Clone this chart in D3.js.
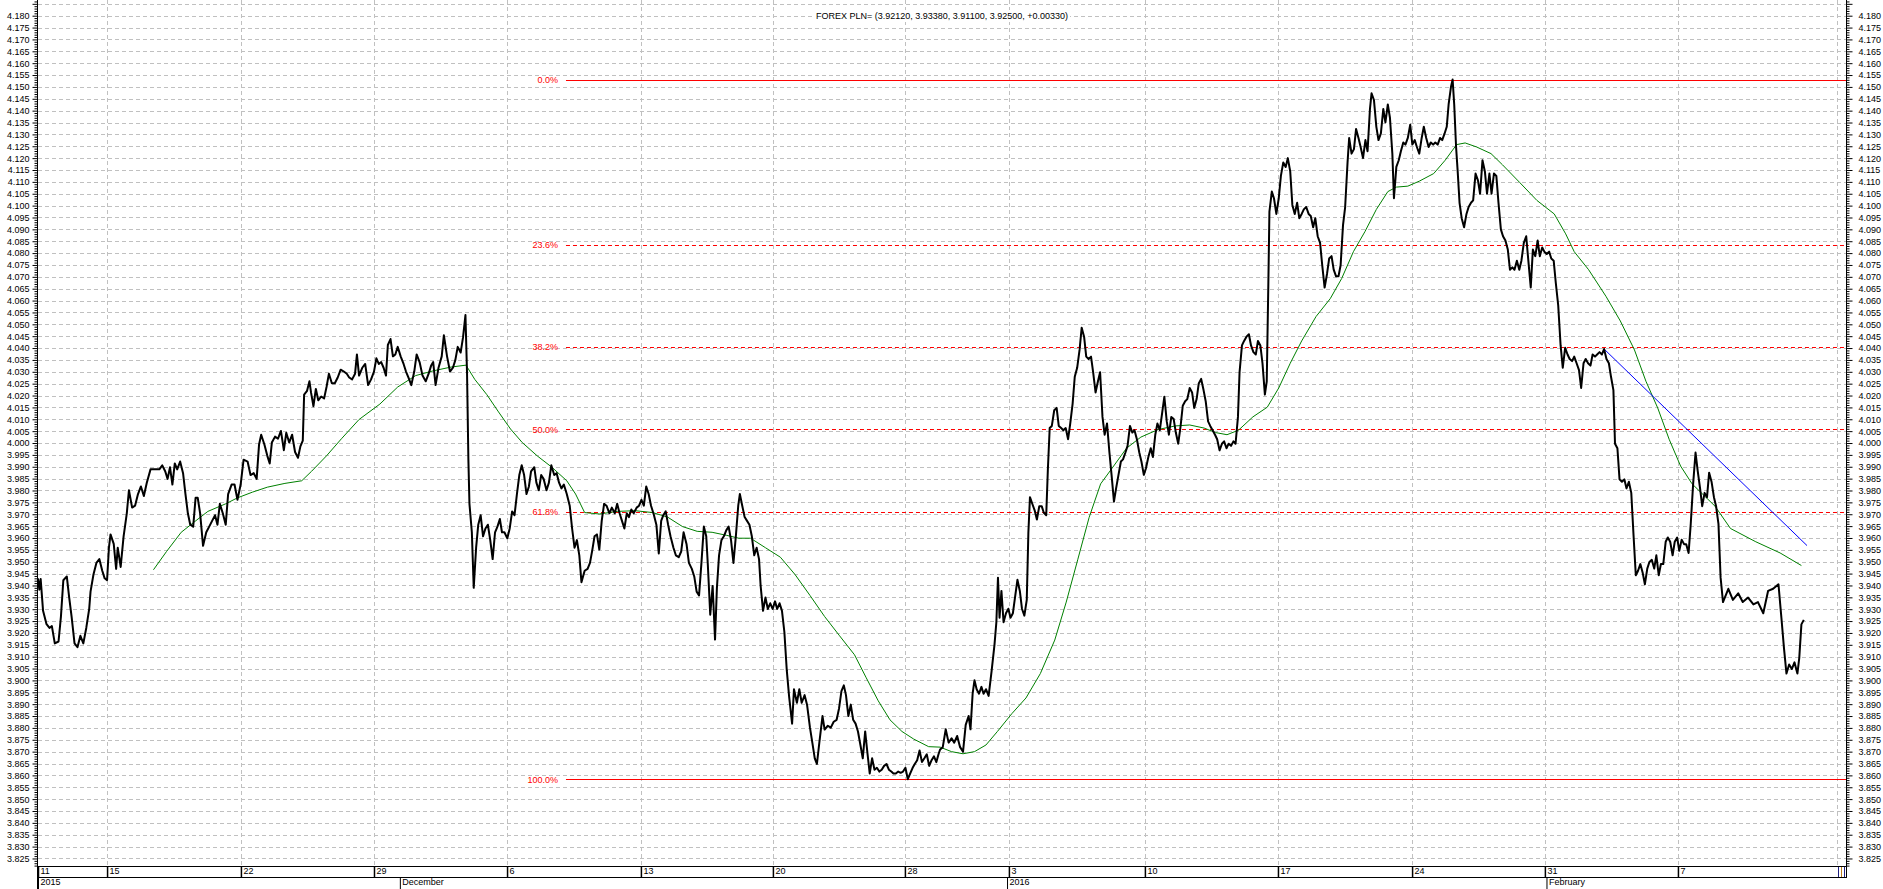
<!DOCTYPE html>
<html><head><meta charset="utf-8">
<script src="https://cdn.jsdelivr.net/npm/d3@7"></script>
<style>
html,body{margin:0;padding:0;background:#fff;}
svg{display:block;font-family:"Liberation Sans",Arial,sans-serif;}
</style></head><body>
<svg id="chart" width="1883" height="889"></svg>
<script>
// ---------- DATA ----------
const title = "FOREX PLN= (3.92120, 3.93380, 3.91100, 3.92500, +0.00330)";
// time in trading days since 11 Nov 2015, PLN= price
const close = [[0,3.943],[0.05,3.9382],[0.1,3.9427],[0.19,3.9293],[0.32,3.9237],[0.43,3.9221],[0.52,3.9229],[0.63,3.9156],[0.77,3.9164],[0.86,3.9269],[0.95,3.9422],[1.08,3.9438],[1.17,3.9349],[1.26,3.9269],[1.37,3.9156],[1.48,3.914],[1.59,3.9188],[1.7,3.9156],[1.81,3.9221],[1.92,3.9301],[1.97,3.9374],[2.08,3.9446],[2.19,3.9495],[2.3,3.9511],[2.41,3.9462],[2.5,3.943],[2.59,3.9422],[2.66,3.9559],[2.72,3.9615],[2.84,3.9575],[2.93,3.947],[2.99,3.9559],[3.1,3.9478],[3.21,3.9607],[3.33,3.9704],[3.41,3.9801],[3.53,3.9728],[3.64,3.9736],[3.75,3.9785],[3.86,3.9817],[3.97,3.9777],[4.08,3.9833],[4.22,3.9889],[4.37,3.9889],[4.55,3.9889],[4.66,3.9906],[4.77,3.9881],[4.86,3.9849],[4.95,3.9898],[5.04,3.9825],[5.13,3.9914],[5.22,3.9889],[5.33,3.9922],[5.44,3.9873],[5.53,3.9785],[5.62,3.9704],[5.71,3.9656],[5.82,3.9648],[5.91,3.9769],[5.99,3.9769],[6.08,3.9704],[6.19,3.9567],[6.31,3.9624],[6.42,3.9648],[6.53,3.9672],[6.64,3.9696],[6.73,3.9656],[6.82,3.9744],[6.93,3.9704],[7.04,3.9656],[7.13,3.9785],[7.26,3.9825],[7.37,3.9825],[7.48,3.9761],[7.6,3.9825],[7.71,3.993],[7.86,3.9922],[7.97,3.9865],[8.09,3.9873],[8.2,3.9849],[8.29,3.9994],[8.37,4.0035],[8.49,3.9994],[8.6,3.9946],[8.69,3.9914],[8.77,4.0002],[8.89,4.0027],[9,4.0018],[9.11,4.0051],[9.22,3.997],[9.31,4.0043],[9.42,4.0002],[9.53,4.0035],[9.64,3.9962],[9.75,3.9938],[9.84,3.9986],[9.93,4.001],[9.98,4.0204],[10.09,4.022],[10.18,4.026],[10.24,4.0212],[10.33,4.0155],[10.42,4.0228],[10.51,4.018],[10.62,4.0196],[10.73,4.0188],[10.82,4.0236],[10.91,4.0292],[11.02,4.0252],[11.13,4.0252],[11.24,4.0276],[11.35,4.0309],[11.47,4.0301],[11.58,4.0292],[11.67,4.0276],[11.78,4.0268],[11.89,4.0292],[11.96,4.0373],[12.04,4.0284],[12.16,4.0317],[12.27,4.0333],[12.38,4.0244],[12.49,4.0268],[12.6,4.0301],[12.69,4.0357],[12.78,4.0333],[12.87,4.0341],[12.96,4.0317],[13.05,4.0284],[13.12,4.0413],[13.22,4.0438],[13.31,4.0365],[13.4,4.0373],[13.49,4.0405],[13.6,4.0365],[13.71,4.0333],[13.8,4.0301],[13.89,4.0276],[14,4.0244],[14.11,4.0301],[14.2,4.0373],[14.31,4.0341],[14.42,4.0284],[14.54,4.026],[14.65,4.0292],[14.74,4.0325],[14.82,4.0341],[14.91,4.0244],[15.02,4.0317],[15.14,4.0365],[15.22,4.0454],[15.34,4.0365],[15.45,4.0301],[15.56,4.0317],[15.65,4.0349],[15.74,4.0405],[15.85,4.0381],[15.94,4.0446],[16.03,4.0539],[16.09,4.0292],[16.14,3.993],[16.18,3.9744],[16.27,3.9624],[16.34,3.939],[16.43,3.9559],[16.51,3.9656],[16.6,3.9696],[16.69,3.9607],[16.78,3.964],[16.87,3.9656],[16.96,3.9591],[17.05,3.9511],[17.14,3.9624],[17.23,3.9648],[17.32,3.968],[17.4,3.9624],[17.49,3.9624],[17.6,3.9599],[17.69,3.964],[17.78,3.9712],[17.87,3.9696],[17.96,3.9785],[18.05,3.9865],[18.14,3.9906],[18.23,3.9865],[18.32,3.9785],[18.41,3.9817],[18.49,3.9881],[18.61,3.9898],[18.69,3.9833],[18.78,3.9801],[18.87,3.9865],[18.96,3.9849],[19.07,3.9801],[19.16,3.9833],[19.25,3.9906],[19.36,3.9865],[19.45,3.9873],[19.54,3.9833],[19.63,3.9809],[19.72,3.9825],[19.83,3.9785],[19.94,3.9736],[20.03,3.964],[20.12,3.9559],[20.21,3.9591],[20.3,3.9527],[20.38,3.9414],[20.5,3.9462],[20.61,3.947],[20.7,3.9495],[20.79,3.9551],[20.87,3.9607],[20.96,3.9615],[21.05,3.9551],[21.14,3.9672],[21.23,3.9744],[21.32,3.9736],[21.43,3.9704],[21.52,3.9728],[21.63,3.9704],[21.72,3.9744],[21.81,3.9704],[21.9,3.9672],[21.99,3.964],[22.08,3.9704],[22.16,3.9688],[22.25,3.972],[22.34,3.9704],[22.45,3.9728],[22.54,3.9736],[22.63,3.9761],[22.72,3.9736],[22.81,3.9817],[22.9,3.9785],[22.99,3.9736],[23.1,3.9696],[23.19,3.9656],[23.28,3.9535],[23.37,3.9672],[23.45,3.9696],[23.54,3.9712],[23.63,3.9656],[23.72,3.9607],[23.83,3.9559],[23.92,3.9527],[24.03,3.9519],[24.12,3.9543],[24.21,3.9624],[24.32,3.9575],[24.41,3.9495],[24.52,3.947],[24.61,3.9438],[24.7,3.9374],[24.79,3.9358],[24.88,3.9495],[24.97,3.9648],[25.06,3.9607],[25.12,3.9486],[25.21,3.9277],[25.3,3.9398],[25.39,3.9172],[25.46,3.939],[25.54,3.9527],[25.63,3.9591],[25.72,3.9607],[25.81,3.9632],[25.9,3.9648],[25.99,3.9591],[26.08,3.9495],[26.17,3.9607],[26.26,3.9736],[26.32,3.9785],[26.41,3.9736],[26.5,3.9688],[26.59,3.9672],[26.68,3.9656],[26.77,3.9607],[26.86,3.9527],[26.95,3.9559],[27.04,3.9511],[27.1,3.9398],[27.19,3.9293],[27.28,3.9349],[27.37,3.9301],[27.46,3.9325],[27.55,3.9301],[27.64,3.9333],[27.72,3.9301],[27.81,3.9325],[27.9,3.9293],[27.99,3.9204],[28.08,3.9043],[28.17,3.893],[28.28,3.8818],[28.35,3.8963],[28.46,3.8906],[28.55,3.8963],[28.64,3.8906],[28.75,3.8938],[28.84,3.8898],[28.95,3.8801],[29.04,3.8737],[29.13,3.8672],[29.21,3.8648],[29.3,3.8737],[29.42,3.885],[29.5,3.8793],[29.62,3.8809],[29.73,3.8801],[29.84,3.8826],[29.95,3.8834],[30.04,3.8882],[30.13,3.8955],[30.22,3.8979],[30.3,3.8938],[30.39,3.885],[30.48,3.8898],[30.57,3.8834],[30.66,3.8818],[30.75,3.8785],[30.84,3.8729],[30.93,3.8672],[31.02,3.8785],[31.11,3.8689],[31.19,3.8608],[31.28,3.8672],[31.37,3.8624],[31.46,3.8632],[31.55,3.8616],[31.64,3.8624],[31.73,3.864],[31.82,3.8648],[31.91,3.8624],[32,3.8616],[32.08,3.8608],[32.17,3.8608],[32.26,3.8616],[32.35,3.8611],[32.44,3.8616],[32.53,3.8632],[32.62,3.8584],[32.71,3.8608],[32.8,3.8632],[32.88,3.8648],[32.97,3.8664],[33.06,3.8705],[33.15,3.8656],[33.24,3.8672],[33.33,3.8689],[33.42,3.864],[33.51,3.8664],[33.6,3.868],[33.69,3.8656],[33.77,3.8689],[33.83,3.8709],[33.93,3.8719],[34.04,3.8794],[34.15,3.8738],[34.26,3.8756],[34.36,3.8738],[34.47,3.8766],[34.58,3.8719],[34.69,3.87],[34.79,3.8813],[34.9,3.885],[34.97,3.8794],[35.05,3.8944],[35.12,3.9001],[35.2,3.8963],[35.29,3.8944],[35.38,3.8973],[35.46,3.8944],[35.55,3.8963],[35.65,3.8935],[35.76,3.9038],[35.87,3.9151],[35.94,3.9245],[36,3.9433],[36.06,3.9264],[36.13,3.9377],[36.21,3.9245],[36.3,3.9283],[36.39,3.9302],[36.47,3.9264],[36.56,3.9283],[36.65,3.9358],[36.73,3.9424],[36.82,3.9377],[36.9,3.9302],[36.99,3.9273],[37.08,3.9339],[37.14,3.9621],[37.2,3.9772],[37.29,3.9743],[37.38,3.9715],[37.46,3.9678],[37.55,3.9734],[37.64,3.9734],[37.72,3.9706],[37.81,3.9696],[37.87,3.9884],[37.94,4.0063],[38.02,4.0072],[38.11,4.0138],[38.2,4.0148],[38.28,4.0072],[38.37,4.0063],[38.45,4.0054],[38.54,4.0063],[38.63,4.0016],[38.71,4.0082],[38.8,4.0166],[38.88,4.0279],[38.97,4.0317],[39.06,4.0392],[39.14,4.0486],[39.23,4.0448],[39.31,4.0364],[39.4,4.0354],[39.49,4.0364],[39.57,4.0298],[39.66,4.0213],[39.75,4.026],[39.83,4.0298],[39.92,4.011],[40,4.0035],[40.09,4.0082],[40.18,3.996],[40.26,3.9866],[40.35,3.9753],[40.43,3.9809],[40.52,3.9866],[40.61,3.9922],[40.69,3.9931],[40.78,3.996],[40.86,3.9988],[40.95,4.0072],[41.04,4.0044],[41.12,4.0054],[41.21,4.0016],[41.3,3.996],[41.38,3.9922],[41.47,3.9866],[41.55,3.9894],[41.64,3.9941],[41.73,3.9978],[41.81,3.9941],[41.9,4.0035],[41.98,4.0082],[42.07,4.0054],[42.16,4.0129],[42.24,4.0195],[42.33,4.0091],[42.41,4.0035],[42.5,4.011],[42.59,4.0101],[42.67,4.0044],[42.76,3.9997],[42.85,4.0072],[42.93,4.0157],[43.02,4.0176],[43.1,4.0185],[43.19,4.0232],[43.28,4.0213],[43.36,4.0148],[43.45,4.0185],[43.53,4.0251],[43.62,4.027],[43.71,4.0223],[43.79,4.0176],[43.88,4.0091],[43.96,4.0072],[44.05,4.0054],[44.14,4.0035],[44.22,4.0016],[44.31,3.9969],[44.4,3.9997],[44.48,4.0007],[44.57,3.9978],[44.65,3.9997],[44.74,3.9988],[44.83,4.0007],[44.91,3.9997],[45,4.011],[45.06,4.0298],[45.15,4.0411],[45.23,4.043],[45.32,4.0448],[45.41,4.0458],[45.49,4.0411],[45.58,4.0383],[45.67,4.0373],[45.75,4.043],[45.84,4.0411],[45.92,4.0336],[46.01,4.0204],[46.08,4.026],[46.14,4.0674],[46.18,4.0975],[46.27,4.1059],[46.35,4.1031],[46.44,4.0965],[46.53,4.1031],[46.61,4.1125],[46.7,4.1182],[46.79,4.1163],[46.87,4.12],[46.96,4.1144],[47.04,4.1003],[47.13,4.0965],[47.22,4.1012],[47.3,4.0947],[47.39,4.0965],[47.47,4.0984],[47.56,4.0994],[47.65,4.0965],[47.73,4.0956],[47.82,4.0909],[47.9,4.0947],[47.99,4.0871],[48.08,4.0843],[48.16,4.0749],[48.25,4.0655],[48.34,4.0712],[48.42,4.0777],[48.51,4.0787],[48.59,4.073],[48.68,4.0702],[48.77,4.0702],[48.85,4.0749],[48.94,4.0918],[49.02,4.0994],[49.11,4.1182],[49.17,4.1285],[49.26,4.1219],[49.35,4.1238],[49.43,4.1323],[49.52,4.1285],[49.6,4.1247],[49.69,4.12],[49.78,4.1276],[49.86,4.1229],[49.95,4.1407],[50.01,4.1473],[50.1,4.1445],[50.19,4.1332],[50.27,4.1276],[50.36,4.1304],[50.45,4.1407],[50.53,4.1351],[50.62,4.1426],[50.7,4.137],[50.79,4.1219],[50.85,4.1031],[50.94,4.1163],[51.03,4.1191],[51.11,4.1229],[51.2,4.1266],[51.28,4.1257],[51.37,4.1285],[51.46,4.1341],[51.54,4.1257],[51.63,4.1276],[51.71,4.1247],[51.8,4.1219],[51.89,4.1285],[51.97,4.1332],[52.06,4.1285],[52.15,4.1247],[52.23,4.1266],[52.32,4.1257],[52.4,4.1266],[52.49,4.1257],[52.58,4.1285],[52.66,4.1276],[52.75,4.1304],[52.83,4.1332],[52.9,4.1426],[52.99,4.1501],[53.05,4.1531],[53.11,4.1426],[53.18,4.1247],[53.24,4.1144],[53.31,4.1012],[53.39,4.0947],[53.48,4.0909],[53.57,4.0965],[53.65,4.0994],[53.74,4.1012],[53.82,4.1022],[53.91,4.1135],[54,4.1106],[54.08,4.105],[54.17,4.1191],[54.26,4.1144],[54.34,4.105],[54.43,4.1135],[54.51,4.105],[54.6,4.1135],[54.69,4.1125],[54.77,4.1012],[54.86,4.09],[54.94,4.0871],[55.03,4.0853],[55.12,4.0815],[55.2,4.073],[55.29,4.074],[55.37,4.073],[55.46,4.0768],[55.55,4.073],[55.63,4.0768],[55.72,4.0843],[55.81,4.0871],[55.89,4.0768],[55.98,4.0655],[56.06,4.0815],[56.15,4.0787],[56.24,4.0853],[56.32,4.0787],[56.41,4.0824],[56.49,4.0806],[56.58,4.0796],[56.67,4.0806],[56.75,4.0777],[56.84,4.0768],[56.92,4.0674],[57.01,4.058],[57.1,4.0411],[57.18,4.0317],[57.27,4.0401],[57.36,4.0373],[57.44,4.0354],[57.53,4.0345],[57.61,4.0364],[57.7,4.0336],[57.79,4.0307],[57.87,4.0232],[57.96,4.0336],[58.04,4.0354],[58.13,4.0336],[58.22,4.0326],[58.3,4.0373],[58.39,4.0364],[58.47,4.0373],[58.56,4.0383],[58.65,4.0373],[58.73,4.0396],[58.82,4.0354],[58.91,4.0336],[58.99,4.0279],[59.08,4.0223],[59.14,3.9997],[59.23,3.9978],[59.31,3.9847],[59.4,3.9837],[59.49,3.9847],[59.57,3.9809],[59.66,3.9837],[59.75,3.979],[59.83,3.9621],[59.92,3.9443],[60,3.9461],[60.09,3.949],[60.18,3.9452],[60.26,3.9405],[60.35,3.9471],[60.43,3.9499],[60.52,3.9508],[60.61,3.9471],[60.69,3.9527],[60.78,3.9443],[60.86,3.949],[60.95,3.949],[61.04,3.9584],[61.12,3.9602],[61.21,3.9584],[61.3,3.9527],[61.38,3.9584],[61.47,3.9602],[61.55,3.9546],[61.64,3.9593],[61.73,3.9574],[61.81,3.9574],[61.9,3.9537],[61.98,3.9659],[62.07,3.9828],[62.16,3.996],[62.24,3.9884],[62.33,3.9809],[62.41,3.9734],[62.5,3.979],[62.59,3.9772],[62.67,3.9875],[62.76,3.9837],[62.85,3.9772],[62.93,3.9734],[63.02,3.9659],[63.1,3.9433],[63.19,3.933],[63.39,3.9386],[63.56,3.9339],[63.76,3.9367],[63.93,3.933],[64.13,3.9349],[64.33,3.932],[64.5,3.933],[64.7,3.9283],[64.88,3.9377],[65.07,3.9386],[65.27,3.9405],[65.38,3.9264],[65.48,3.9132],[65.57,3.9029],[65.67,3.9067],[65.77,3.9048],[65.87,3.9076],[65.98,3.9029],[66.05,3.9095],[66.13,3.9236],[66.22,3.9255]];

const movingAvg = [[4.33,3.9466],[4.82,3.9543],[5.37,3.9624],[5.82,3.9664],[6.37,3.9712],[7.04,3.9744],[7.48,3.9769],[8.04,3.9793],[8.6,3.9814],[9.26,3.983],[9.89,3.9841],[10.26,3.9881],[10.82,3.9946],[11.38,4.0018],[12.04,4.0099],[12.82,4.0164],[13.49,4.0236],[14.16,4.0284],[14.82,4.0304],[15.49,4.032],[16.05,4.0328],[16.38,4.0268],[16.83,4.0204],[17.27,4.0131],[17.72,4.0059],[18.16,4.0002],[18.72,3.9946],[19.27,3.9898],[19.83,3.9841],[20.16,3.9785],[20.5,3.9707],[21.05,3.9701],[21.72,3.9712],[22.39,3.9715],[23.05,3.9707],[23.61,3.9688],[24.17,3.9648],[24.72,3.9628],[25.28,3.9624],[25.83,3.9611],[26.28,3.9599],[26.72,3.9599],[27.28,3.9559],[27.84,3.9519],[28.39,3.9446],[28.95,3.9358],[29.5,3.9269],[30.06,3.9188],[30.62,3.9108],[31.06,3.9011],[31.51,3.8914],[31.95,3.8834],[32.4,3.8785],[32.84,3.8753],[33.4,3.8721],[33.83,3.8719],[34.26,3.87],[34.69,3.8691],[35.12,3.87],[35.55,3.8728],[35.98,3.8785],[36.52,3.886],[37.05,3.8926],[37.59,3.9029],[38.13,3.917],[38.56,3.933],[38.99,3.9508],[39.42,3.9687],[39.85,3.9828],[40.28,3.9894],[40.82,3.9978],[41.36,4.0025],[42.01,4.0057],[42.65,4.0072],[43.19,4.0076],[43.73,4.0063],[44.16,4.0044],[44.59,4.0035],[45.02,4.0054],[45.56,4.011],[46.1,4.0151],[46.53,4.0232],[46.96,4.0336],[47.39,4.043],[47.93,4.0533],[48.46,4.0608],[48.89,4.0693],[49.33,4.0806],[49.76,4.089],[50.19,4.0984],[50.62,4.1059],[50.94,4.1078],[51.37,4.1082],[51.8,4.1103],[52.34,4.1135],[52.77,4.1191],[53.2,4.1257],[53.52,4.1264],[53.95,4.1247],[54.49,4.1219],[54.92,4.1172],[55.57,4.1097],[56.21,4.1022],[56.86,4.0965],[57.29,4.0881],[57.61,4.0806],[58.15,4.073],[58.8,4.0618],[59.34,4.0514],[59.87,4.0392],[60.3,4.026],[60.74,4.0148],[61.17,4.0016],[61.6,3.9903],[62.03,3.9828],[62.46,3.9781],[62.89,3.9734],[63.47,3.964],[64.42,3.9584],[65.33,3.9537],[66.13,3.9484]];

const trendLine = [[58.73,4.0396],[66.34,3.9568]];

const fibHigh = 4.1531, fibLow = 3.8584, fibStartDay = 19.8;
const fibRatios = [0, 0.236, 0.382, 0.5, 0.618, 1];
const fibLabels = ["0.0%", "23.6%", "38.2%", "50.0%", "61.8%", "100.0%"];

const dayTickDays = [0, 2.59, 7.61, 12.6, 17.59, 22.61, 27.56, 32.51, 36.41, 41.51, 46.5, 51.53, 56.51, 61.5];
const dayTickLabels = ["11", "15", "22", "29", "6", "13", "20", "28", "3", "10", "17", "24", "31", "7"];
const periodTickDays = [0, 13.57, 36.34, 56.57];
const periodTickLabels = ["2015", "December", "2016", "February"];
const yLabelMin = 3.825, yLabelMax = 4.180, yGridMax = 4.185;

// ---------- LAYOUT ----------
const svg = d3.select("#chart");
const L = 37, R = 1847, T = 0, B = 866;
const x = d3.scaleLinear().domain([0, 67.84]).range([38, 1847]);
const y = d3.scaleLinear().domain([3.82183, 4.18661]).range([B, T]);
const crisp = v => Math.round(v) + 0.5;

const majorVals = d3.range(Math.round(yLabelMin * 1000), Math.round(yGridMax * 1000) + 1, 5).map(d => d / 1000);
const minorVals = d3.range(3822, 4187, 1).map(d => d / 1000).filter(v => Math.round(v * 1000) % 5 !== 0);

// grid
const grid = svg.append("g");
grid.selectAll("line.h").data(majorVals).join("line")
  .attr("x1", L + 1).attr("x2", R)
  .attr("y1", d => crisp(y(d))).attr("y2", d => crisp(y(d)))
  .attr("stroke", "#c0c0c0").attr("stroke-dasharray", "4,3");
const vGrid = dayTickDays.slice(1).concat([67.46]);
grid.selectAll("line.v").data(vGrid).join("line")
  .attr("x1", d => crisp(x(d))).attr("x2", d => crisp(x(d)))
  .attr("y1", T).attr("y2", B)
  .attr("stroke", "#c0c0c0").attr("stroke-dasharray", "4,3");

// title with white background
const tg = svg.append("g");
tg.append("rect").attr("x", 812).attr("y", 10).attr("width", 258).attr("height", 12).attr("fill", "#fff");
tg.append("text").attr("x", (L + R) / 2).attr("y", 19).attr("text-anchor", "middle")
  .attr("font-size", 9).attr("fill", "#000").text(title);

// Fibonacci retracement
const fibG = svg.append("g");
const fibVals = fibRatios.map(r => fibHigh - r * (fibHigh - fibLow));
fibG.selectAll("line").data(fibVals).join("line")
  .attr("x1", x(fibStartDay)).attr("x2", R)
  .attr("y1", d => crisp(y(d))).attr("y2", d => crisp(y(d)))
  .attr("stroke", "#ff0000").attr("stroke-width", 1)
  .attr("stroke-dasharray", (d, i) => (i === 0 || i === fibVals.length - 1) ? null : "4,3");
fibG.selectAll("text").data(fibVals).join("text")
  .attr("x", x(fibStartDay) - 8).attr("y", d => y(d) + 3.5)
  .attr("text-anchor", "end").attr("font-size", 9).attr("fill", "#ff0000")
  .text((d, i) => fibLabels[i]);

// series
const line = d3.line().x(d => x(d[0])).y(d => y(d[1]));
svg.append("path").datum(movingAvg).attr("d", line)
  .attr("fill", "none").attr("stroke", "#008000").attr("stroke-width", 1);
svg.append("path").datum(trendLine).attr("d", line)
  .attr("fill", "none").attr("stroke", "#0000ff").attr("stroke-width", 1);
svg.append("path").datum(close).attr("d", line)
  .attr("fill", "none").attr("stroke", "#000").attr("stroke-width", 2)
  .attr("stroke-linejoin", "round");

// y axes
function styleAxis(g) {
  g.select(".domain").remove();
  g.selectAll("text").attr("font-size", 9).attr("fill", "#000").attr("font-family", '"Liberation Sans",Arial,sans-serif');
  g.selectAll("line").attr("stroke", "#000");
}
const fmt = d3.format(".3f");
svg.append("g").attr("transform", `translate(${L + 0.5},0)`)
  .call(d3.axisLeft(y).tickValues(majorVals).tickSize(5).tickPadding(3)
    .tickFormat(d => d <= yLabelMax + 1e-9 ? fmt(d) : ""))
  .call(styleAxis);
svg.append("g").attr("transform", `translate(${L + 0.5},0)`)
  .call(d3.axisLeft(y).tickValues(minorVals).tickSize(3).tickFormat(""))
  .call(styleAxis);
svg.append("g").attr("transform", `translate(${R - 0.5},0)`)
  .call(d3.axisRight(y).tickValues(majorVals).tickSize(6).tickPadding(6)
    .tickFormat(d => d <= yLabelMax + 1e-9 ? fmt(d) : ""))
  .call(styleAxis);
svg.append("g").attr("transform", `translate(${R - 0.5},0)`)
  .call(d3.axisRight(y).tickValues(minorVals).tickSize(3).tickFormat(""))
  .call(styleAxis);

// axis lines
svg.append("line").attr("x1", L + 0.5).attr("x2", L + 0.5).attr("y1", 0).attr("y2", 889).attr("stroke", "#000");
svg.append("line").attr("x1", R - 0.5).attr("x2", R - 0.5).attr("y1", 0).attr("y2", 878).attr("stroke", "#000");

// x axis box
svg.append("line").attr("x1", L).attr("x2", R).attr("y1", B + 0.5).attr("y2", B + 0.5).attr("stroke", "#000").attr("stroke-width", 1.2);
svg.append("line").attr("x1", L).attr("x2", R).attr("y1", B + 11.5).attr("y2", B + 11.5).attr("stroke", "#000").attr("stroke-width", 1.2);

const dayAxis = svg.append("g").attr("transform", `translate(0,${B})`)
  .call(d3.axisBottom(x).tickValues(dayTickDays).tickSize(11)
    .tickFormat((d, i) => dayTickLabels[i]));
dayAxis.select(".domain").remove();
dayAxis.selectAll("line").attr("stroke", "#000").attr("stroke-width", 1.5);
dayAxis.selectAll("text").attr("x", 2).attr("y", 2).attr("dy", "0.71em")
  .style("text-anchor", "start").attr("font-size", 9).attr("fill", "#000")
  .attr("font-family", '"Liberation Sans",Arial,sans-serif');

const perAxis = svg.append("g").attr("transform", `translate(0,${B + 11})`)
  .call(d3.axisBottom(x).tickValues(periodTickDays).tickSize(12)
    .tickFormat((d, i) => periodTickLabels[i]));
perAxis.select(".domain").remove();
perAxis.selectAll("line").attr("stroke", "#000");
perAxis.selectAll("text").attr("x", 2).attr("y", 2).attr("dy", "0.71em")
  .style("text-anchor", "start").attr("font-size", 9).attr("fill", "#000")
  .attr("font-family", '"Liberation Sans",Arial,sans-serif');

// small marks at the far right end of the date strip
svg.append("g").selectAll("line").data([67.5, 67.62, 67.74]).join("line")
  .attr("x1", d => crisp(x(d))).attr("x2", d => crisp(x(d)))
  .attr("y1", B + 1).attr("y2", B + 11)
  .attr("stroke", (d, i) => i === 1 ? "#c08020" : "#202080");
</script>
</body></html>
